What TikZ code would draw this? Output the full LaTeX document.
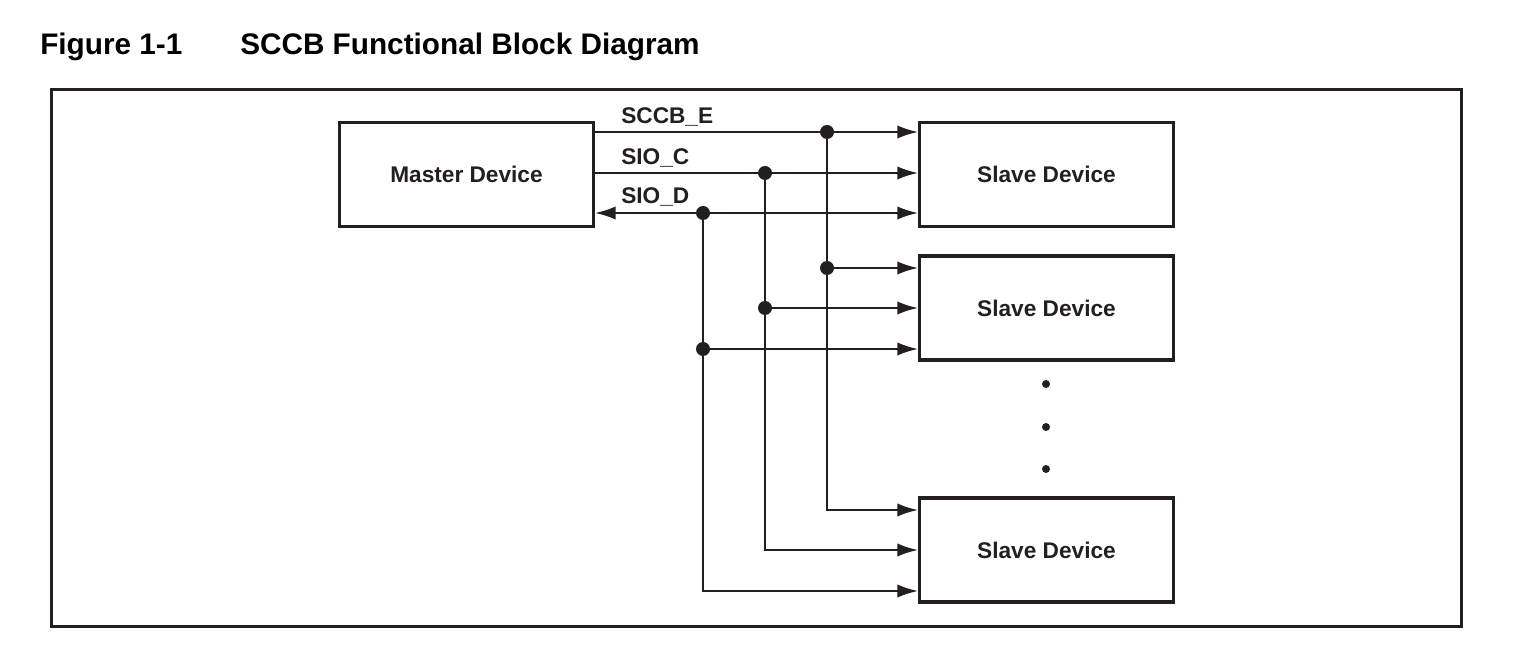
\documentclass[tikz,border=0pt]{standalone}
\usepackage{fontspec}
\setmainfont{Liberation Sans}
\usepackage{xcolor}
\usetikzlibrary{arrows.meta}
\definecolor{Ck}{RGB}{35,31,32}

\begin{document}
\begin{tikzpicture}[x=0.75pt,y=-0.75pt,
    dev/.style={draw=Ck,line width=2.3pt,minimum width=190.5pt,minimum height=78pt,
      inner sep=0pt,font=\fontsize{17}{20}\selectfont\bfseries,text=Ck},
    wire/.style={draw=Ck,line width=1.5pt},
    sig/.style={wire,-{Latex[length=15.5pt,width=10pt]}},
    lbl/.style={anchor=base west,inner sep=0pt,font=\fontsize{17}{20}\selectfont\bfseries,text=Ck},
    ttl/.style={anchor=base west,inner sep=0pt,font=\fontsize{22.3}{26}\selectfont\bfseries,text=black}]
    \useasboundingbox (0,0) rectangle (1515,655);
    % caption
    \node[ttl] (fig) at (40,55) {Figure 1-1};
    \node[ttl] (title) at (240,55) {SCCB Functional Block Diagram};
    \draw[Ck,line width=2.3pt] (51.5,89.5) rectangle (1461.5,626.5);
    % devices
    \node[dev] (m) at (466.5,174.5) {Master Device};
    \node[dev] (s1) at (1046.5,174.5) {Slave Device};
    \node[dev] (s2) at (1046.5,308) {Slave Device};
    \node[dev] (s3) at (1046.5,550) {Slave Device};
    % taps on the bus
    \coordinate (e1) at (827,132); \coordinate (e2) at (827,268); \coordinate (e3) at (827,510);
    \coordinate (c1) at (765,173); \coordinate (c2) at (765,308); \coordinate (c3) at (765,550);
    \coordinate (d1) at (703,213); \coordinate (d2) at (703,349); \coordinate (d3) at (703,591);
    \draw[sig] (m.east |- e1) -- (s1.west |- e1);
    \draw[sig] (m.east |- c1) -- (s1.west |- c1);
    \draw[sig,{Latex[length=15.5pt,width=10pt]}-{Latex[length=15.5pt,width=10pt]}]
      (m.east |- d1) -- (s1.west |- d1);
    \foreach \t in {e,c,d}{
      \draw[sig] (\t1) -- (\t3) -- (s3.west |- \t3);
      \draw[sig] (\t2) -- (s2.west |- \t2);
      \fill[Ck] (\t1) circle (5.25pt) (\t2) circle (5.25pt);
    }
    \node[lbl] (lE) at (621,124) {SCCB\_E};
    \node[lbl] (lC) at (621,165) {SIO\_C};
    \node[lbl] (lD) at (621,204) {SIO\_D};
    % more slaves
    \foreach \y in {384,427,469}
      \fill[Ck] (1046,\y) circle (3pt);
  \end{tikzpicture}
\end{document}
